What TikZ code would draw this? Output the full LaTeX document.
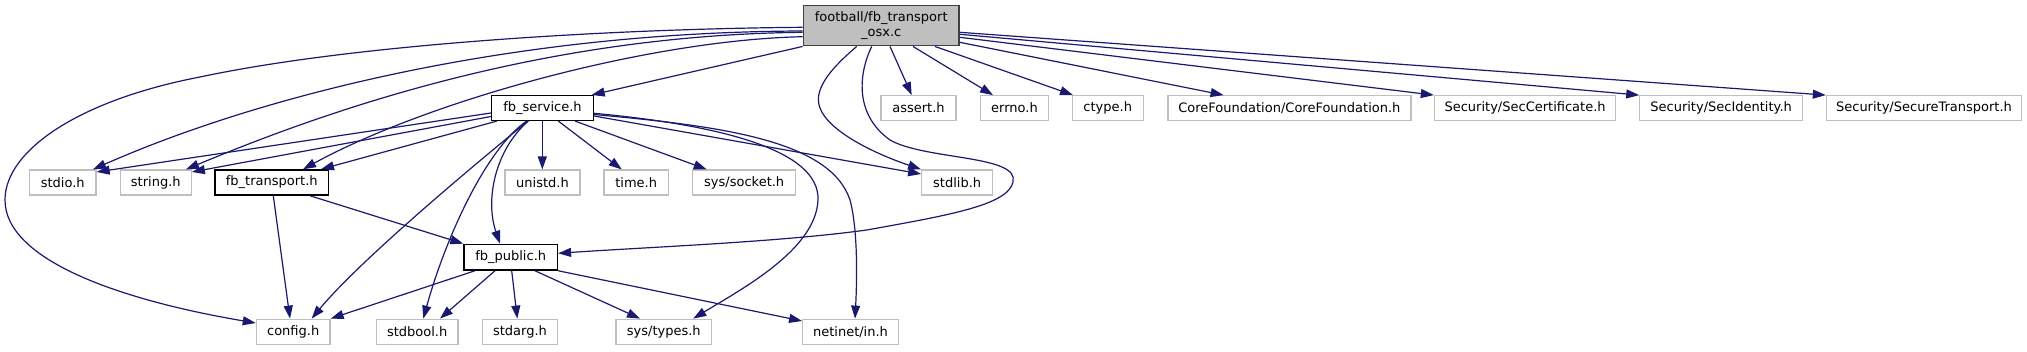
\documentclass[tikz,border=0pt]{standalone}
\usepackage{fontspec}
\setmainfont{DejaVu Sans}
\usetikzlibrary{arrows.meta}
\definecolor{edgeblue}{HTML}{191970}
\definecolor{lgray}{HTML}{BFBFBF}
\definecolor{dgray}{HTML}{404040}
\tikzset{
  base/.style={rectangle, inner sep=0pt, fill=white, text=black,
    font=\fontsize{13}{15.3}\selectfont, minimum height=25pt, line width=1.2pt},
  gnode/.style={base, draw=lgray},
  bnode/.style={base, draw=black, line width=1.5pt},
  mainnode/.style={base, draw=dgray, fill=lgray, line width=1.5pt, align=center},
  dep/.style={draw=edgeblue, line width=1.2pt, -{Triangle[length=13pt,width=9pt]}}
}
\begin{document}
\begin{tikzpicture}[x=1pt,y=-1pt]
\useasboundingbox (0,0) rectangle (2027,351);
% row 1
\node[mainnode, minimum width=155.7pt, minimum height=40pt] (F) at (881.2,25.7) {football/fb\_transport\\\_osx.c};
% row 2
\node[bnode, minimum width=101.6pt, minimum height=24.6pt] (S) at (542.5,108) {fb\_service.h};
\node[gnode, minimum width=75pt, minimum height=24.6pt] (assert) at (918.5,108) {assert.h};
\node[gnode, minimum width=68.4pt, minimum height=24.6pt] (errno) at (1014.5,108) {errno.h};
\node[gnode, minimum width=71pt, minimum height=24.6pt] (ctype) at (1107.7,108) {ctype.h};
\node[gnode, minimum width=243pt, minimum height=24.6pt] (cf) at (1289.4,108) {CoreFoundation/CoreFoundation.h};
\node[gnode, minimum width=181.4pt, minimum height=24.6pt] (seccert) at (1525.1,108) {Security/SecCertificate.h};
\node[gnode, minimum width=162.6pt, minimum height=24.6pt] (secid) at (1721.1,108) {Security/SecIdentity.h};
\node[gnode, minimum width=195.2pt, minimum height=24.6pt] (sectr) at (1924,108) {Security/SecureTransport.h};
% row 3
\node[gnode, minimum width=66.7pt] (stdio) at (62.7,182.5) {stdio.h};
\node[gnode, minimum width=71pt] (string) at (155.8,182.5) {string.h};
\node[bnode, minimum width=113.7pt] (transport) at (271.8,182.5) {fb\_transport.h};
\node[gnode, minimum width=75pt] (unistd) at (542.5,182.5) {unistd.h};
\node[gnode, minimum width=64.3pt] (time) at (636.2,182.5) {time.h};
\node[gnode, minimum width=103pt] (socket) at (744.2,182.5) {sys/socket.h};
\node[gnode, minimum width=71pt] (stdlib) at (957.2,182.5) {stdlib.h};
% row 4
\node[bnode, minimum width=93.3pt, minimum height=25.6pt] (public) at (510.7,257.2) {fb\_public.h};
% row 5
\node[gnode, minimum width=73.7pt] (config) at (293.2,331.7) {config.h};
\node[gnode, minimum width=81.7pt] (stdbool) at (417.2,331.7) {stdbool.h};
\node[gnode, minimum width=74.6pt] (stdarg) at (520,331.7) {stdarg.h};
\node[gnode, minimum width=95.7pt] (types) at (663.8,331.7) {sys/types.h};
\node[gnode, minimum width=95.6pt] (netinet) at (850.5,331.7) {netinet/in.h};

% edges from football/fb_transport_osx.c
\draw[dep] (F.west |- 0,27.3) .. controls (600,29) and (350,45) .. (200,77)
  .. controls (80,100) and (5,150) .. (5,200)
  .. controls (5,260) and (120,300) .. (config.west |- 0,323);
\draw[dep] (F.west |- 0,31) .. controls (500,32) and (250,100) .. (93,0 |- stdio.north);
\draw[dep] (F.west |- 0,32.3) .. controls (550,35) and (340,105) .. (186,0 |- string.north);
\draw[dep] (F.west |- 0,36.7) .. controls (650,40) and (430,100) .. (303,0 |- transport.north);
\draw[dep] (F.south west) -- (591.7,0 |- S.north);
\draw[dep] (856.7,0 |- F.south) .. controls (835,65) and (812,88) .. (820,108)
  .. controls (828,130) and (870,152) .. (stdlib.north west);
\draw[dep] (871.7,0 |- F.south) .. controls (858,75) and (855,115) .. (890,140)
  .. controls (925,160) and (1020,155) .. (1013,182)
  .. controls (1008,205) and (950,215) .. (866.7,230)
  .. controls (780,242) and (650,247) .. (public.east |- 0,253.3);
\draw[dep] (890,0 |- F.south) -- (911.7,0 |- assert.north);
\draw[dep] (913,0 |- F.south) -- (993,0 |- errno.north);
\draw[dep] (935,0 |- F.south) -- (1073,0 |- ctype.north);
\draw[dep] (F.east |- 0,42.3) -- (1223.6,0 |- cf.north);
\draw[dep] (F.east |- 0,37.3) -- (seccert.north west);
\draw[dep] (F.east |- 0,34.3) -- (secid.north west);
\draw[dep] (F.east |- 0,32.3) -- (sectr.north west);

% edges from fb_service.h
\draw[dep] (S.west |- 0,113) -- (stdio.east |- 0,172);
\draw[dep] (S.west |- 0,116.5) -- (string.east |- 0,172);
\draw[dep] (497,0 |- S.south) -- (321,0 |- transport.north);
\draw[dep] (528,0 |- S.south) .. controls (480,160) and (360,260) .. (311.7,0 |- config.north);
\draw[dep] (526.7,0 |- S.south) .. controls (485,150) and (445,240) .. (423.3,0 |- stdbool.north);
\draw[dep] (528.3,0 |- S.south) .. controls (495,150) and (485,200) .. (500,0 |- public.north);
\draw[dep] (542.3,0 |- S.south) -- (542.3,0 |- unistd.north);
\draw[dep] (558.3,0 |- S.south) -- (621.7,0 |- time.north);
\draw[dep] (575,0 |- S.south) -- (706.7,0 |- socket.north);
\draw[dep] (S.east |- 0,116) -- (stdlib.west |- 0,174);
\draw[dep] (S.east |- 0,113.3) .. controls (720,125) and (820,150) .. (818,200)
  .. controls (816,250) and (740,290) .. (693.3,0 |- types.north);
\draw[dep] (S.east |- 0,114.5) .. controls (720,126) and (830,140) .. (850,200)
  .. controls (858,230) and (857,280) .. (855,0 |- netinet.north);

% edges from fb_transport.h
\draw[dep] (273.3,0 |- transport.south) -- (290,0 |- config.north);
\draw[dep] (310,0 |- transport.south) -- (public.north west);

% edges from fb_public.h
\draw[dep] (475,0 |- public.south) -- (config.north east);
\draw[dep] (495,0 |- public.south) -- (440,0 |- stdbool.north);
\draw[dep] (511.7,0 |- public.south) -- (517.3,0 |- stdarg.north);
\draw[dep] (535,0 |- public.south) -- (640,0 |- types.north);
\draw[dep] (public.south east) -- (netinet.west |- 0,321);
\end{tikzpicture}
\end{document}
